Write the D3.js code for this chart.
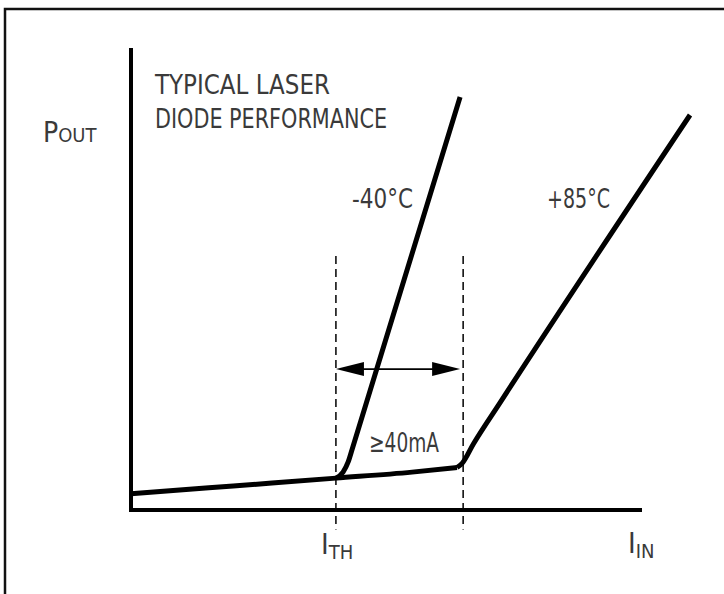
<!DOCTYPE html>
<html>
<head>
<meta charset="utf-8">
<script src="https://cdn.jsdelivr.net/npm/d3@7"></script>
<style>
body { margin: 0; background: #fff; }
svg { display: block; }
text { font-family: 'Liberation Sans Narrow', 'DejaVu Sans Condensed', sans-serif; fill: #3a3a3a; }
</style>
</head>
<body>
<div id="chart"></div>
<script>
"use strict";

// current in (arbitrary units) vs optical power out (arbitrary units)
var baseI = [0, 20, 40.1, 55, 63.8];
var baseP = [3.5, 5.2, 6.9, 8.2, 9.2];
var coldI = [40.1, 41.5, 42.5, 43.4, 64.4];
var coldP = [6.9, 8.2, 10.4, 13.6, 89.4];
var hotI = [63.8, 64.8, 67, 72.2, 109.4];
var hotP = [9.2, 10.1, 14.3, 23.2, 85.5];
var thresholds = [40.1, 65];
var spanLevel = 30.5;
var titleLines = ["TYPICAL LASER", "DIODE PERFORMANCE"];
var seriesLabels = ["-40°C", "+85°C"];
var spanLabel = "\u226540mA";

var width = 724, height = 594;

var svg = d3.select("#chart").append("svg")
	.attr("width", width)
	.attr("height", height);

svg.append("rect").attr("width", width).attr("height", height).attr("fill", "#fff");

// frame (cropped at right and bottom)
svg.append("path")
	.attr("d", "M5,594 L5,9 L724,9")
	.attr("fill", "none")
	.attr("stroke", "#111")
	.attr("stroke-width", 2.5);

var x = d3.scaleLinear().domain([0, 100]).range([131, 642]);
var y = d3.scaleLinear().domain([0, 100]).range([510, 48]);

function pts(xs, ys) {
	var out = [];
	for (var i = 0; i < xs.length; i++) out.push([xs[i], ys[i]]);
	return out;
}

var line = d3.line()
	.x(function(d) { return x(d[0]); })
	.y(function(d) { return y(d[1]); })
	.curve(d3.curveMonotoneX);

// dashed threshold markers
thresholds.forEach(function(t) {
	svg.append("line")
		.attr("x1", x(t)).attr("x2", x(t))
		.attr("y1", y(55)).attr("y2", y(-4.2))
		.attr("stroke", "#111")
		.attr("stroke-width", 1.6)
		.attr("stroke-dasharray", "8,5");
});

// axes
svg.append("line")
	.attr("x1", x(0)).attr("x2", x(0))
	.attr("y1", y(100)).attr("y2", y(0) + 2)
	.attr("stroke", "#000").attr("stroke-width", 4);
svg.append("line")
	.attr("x1", x(0) - 2).attr("x2", x(100))
	.attr("y1", y(0)).attr("y2", y(0))
	.attr("stroke", "#000").attr("stroke-width", 4);

// curves
[pts(baseI, baseP), pts(coldI, coldP), pts(hotI, hotP)].forEach(function(d) {
	svg.append("path")
		.attr("d", line(d))
		.attr("fill", "none")
		.attr("stroke", "#000")
		.attr("stroke-width", 5)
		.attr("stroke-linejoin", "round");
});

// span arrow
var ay = y(spanLevel), ax0 = x(thresholds[0]), ax1 = x(thresholds[1]) - 3;
svg.append("line")
	.attr("x1", ax0 + 10).attr("x2", ax1 - 10)
	.attr("y1", ay).attr("y2", ay)
	.attr("stroke", "#000").attr("stroke-width", 1.6);
svg.append("path")
	.attr("d", "M" + ax0 + "," + ay + " L" + (ax0 + 28) + "," + (ay - 7) + " L" + (ax0 + 28) + "," + (ay + 7) + " Z")
	.attr("fill", "#000");
svg.append("path")
	.attr("d", "M" + ax1 + "," + ay + " L" + (ax1 - 28) + "," + (ay - 7) + " L" + (ax1 - 28) + "," + (ay + 7) + " Z")
	.attr("fill", "#000");

// text
function label(txt, px, py, size, len) {
	var t = svg.append("text")
		.attr("x", px).attr("y", py)
		.attr("font-size", size)
		.text(txt);
	if (len) t.attr("textLength", len).attr("lengthAdjust", "spacingAndGlyphs");
	return t;
}

label(titleLines[0], 155, 94, 27, 175);
label(titleLines[1], 155, 128, 27, 232);
label(seriesLabels[0], 352, 208, 27, 61);
label(seriesLabels[1], 547, 208, 27, 63);
label(spanLabel, 369, 452, 27, 70);

// axis names with subscripts
var py = svg.append("text").attr("x", 43).attr("y", 142).attr("font-size", 28);
py.append("tspan").text("P");
py.append("tspan").attr("font-size", 20).text("OUT");

var ith = svg.append("text").attr("x", 321).attr("y", 554).attr("font-size", 29);
ith.append("tspan").text("I");
ith.append("tspan").attr("font-size", 20).attr("dy", 5).text("TH");

var iin = svg.append("text").attr("x", 628).attr("y", 553).attr("font-size", 29);
iin.append("tspan").text("I");
iin.append("tspan").attr("font-size", 20).attr("dy", 5).text("IN");
</script>
</body>
</html>
